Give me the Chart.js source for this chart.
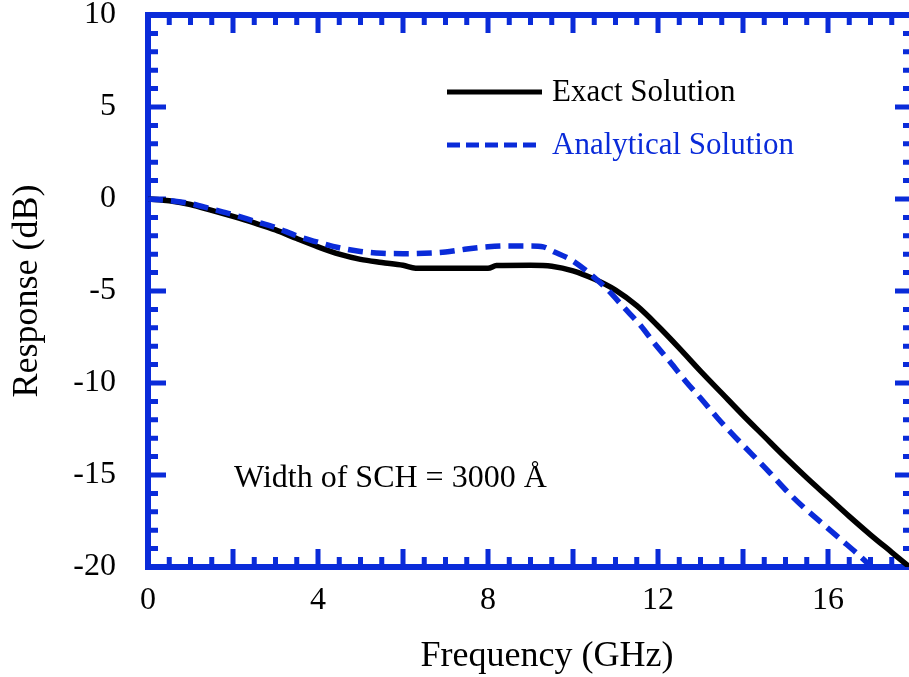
<!DOCTYPE html>
<html>
<head>
<meta charset="utf-8">
<title>Frequency response</title>
<script src="https://cdn.jsdelivr.net/npm/chart.js@4.4.1/dist/chart.umd.min.js"></script>
<style>
  html, body { margin: 0; padding: 0; background: #fff; overflow: hidden; width: 909px; height: 677px; }
  #wrap { position: absolute; left: 0; top: 0; width: 920px; height: 677px; }
  canvas { display: block; }
</style>
</head>
<body>
<div id="wrap"><canvas id="c" width="920" height="677"></canvas></div>
<script>
// Exact solution: frequency (GHz) and response (dB)
const freqExact = [0, 0.5, 1, 1.5, 2, 2.5, 3, 3.5, 4, 4.5, 5, 5.5, 6, 6.3, 7, 8, 8.2, 9, 9.5, 10, 10.5, 11, 11.5, 12, 12.5, 13, 13.5, 14, 14.5, 15, 15.5, 16, 16.5, 17, 17.5, 18];
const respExact = [0, -0.1, -0.3, -0.62, -0.95, -1.3, -1.68, -2.15, -2.6, -3.0, -3.28, -3.45, -3.6, -3.76, -3.77, -3.77, -3.62, -3.6, -3.65, -3.9, -4.35, -4.95, -5.8, -6.9, -8.1, -9.35, -10.55, -11.75, -12.9, -14.05, -15.15, -16.2, -17.25, -18.25, -19.2, -20.15];

// Analytical solution: frequency (GHz) and response (dB)
const freqAnalytical = [0, 0.5, 1, 1.5, 2, 2.5, 3, 3.5, 4, 4.5, 5, 5.5, 6, 6.5, 7, 7.5, 8, 8.5, 9, 9.3, 9.55, 9.95, 10.35, 10.8, 11.2, 11.6, 11.9, 12.3, 12.65, 13.05, 13.4, 13.8, 14.2, 14.6, 15, 15.4, 15.85, 16.3, 16.7, 17, 17.3];
const respAnalytical = [0, -0.08, -0.25, -0.55, -0.85, -1.2, -1.55, -2.0, -2.35, -2.65, -2.85, -2.95, -2.97, -2.95, -2.88, -2.72, -2.6, -2.55, -2.55, -2.6, -2.87, -3.3, -3.97, -4.9, -5.9, -6.9, -7.8, -8.9, -9.9, -10.95, -11.9, -12.9, -13.85, -14.8, -15.8, -16.7, -17.6, -18.5, -19.3, -19.95, -20.6];

// Labelled tick values
const xTickValues = [0, 4, 8, 12, 16];
const yTickValues = [-20, -15, -10, -5, 0, 5, 10];

const seriesNames = ['Exact Solution', 'Analytical Solution'];
const xTitle = 'Frequency (GHz)';
const yTitle = 'Response (dB)';
const noteText = 'Width of SCH = 3000 Å';

const BLUE = '#0a2bd9';
const SERIF = '"Liberation Serif", "Times New Roman", Times, serif';

function toPoints(xs, ys) {
  return xs.map((x, i) => ({ x: x, y: ys[i] }));
}

// Blue box frame with inward ticks on all four sides, plus legend, note and x title
const framePlugin = {
  id: 'frame',
  beforeDatasetsDraw(chart) {
    const { ctx, chartArea: a, scales } = chart;
    const xs = scales.x, ys = scales.y;
    ctx.save();
    ctx.strokeStyle = BLUE;
    ctx.lineCap = 'butt';
    ctx.lineWidth = 5;
    ctx.beginPath();
    for (let i = 0; i <= 36; i++) {
      const v = i * 0.5;
      const px = xs.getPixelForValue(v);
      const len = (i % 4 === 0) ? 18 : 10;
      ctx.moveTo(px, a.bottom); ctx.lineTo(px, a.bottom - len);
      ctx.moveTo(px, a.top); ctx.lineTo(px, a.top + len);
    }
    for (let v = -20; v <= 10; v++) {
      const py = ys.getPixelForValue(v);
      const len = (v % 5 === 0) ? 18 : 10;
      ctx.moveTo(a.left, py); ctx.lineTo(a.left + len, py);
      ctx.moveTo(a.right, py); ctx.lineTo(a.right - len, py);
    }
    ctx.stroke();
    ctx.lineWidth = 6;
    ctx.strokeRect(a.left, a.top, a.right - a.left, a.bottom - a.top);
    ctx.restore();
  },
  afterDraw(chart) {
    const ctx = chart.ctx;
    ctx.save();
    // legend
    const rows = [
      { y: 92, x1: 447, x2: 542, dash: [] },
      { y: 145, x1: 447, x2: 536, dash: [13, 6] }
    ];
    chart.data.datasets.forEach((ds, i) => {
      const r = rows[i];
      ctx.strokeStyle = ds.borderColor;
      ctx.lineWidth = 5;
      ctx.lineCap = 'butt';
      ctx.setLineDash(r.dash);
      ctx.beginPath();
      ctx.moveTo(r.x1, r.y);
      ctx.lineTo(r.x2, r.y);
      ctx.stroke();
      ctx.setLineDash([]);
      ctx.fillStyle = ds.borderColor;
      ctx.font = '31px ' + SERIF;
      ctx.textAlign = 'left';
      ctx.textBaseline = 'alphabetic';
      ctx.fillText(ds.label, 552, r.y + 9);
    });
    // annotation
    ctx.fillStyle = '#000';
    ctx.font = '32px ' + SERIF;
    ctx.textAlign = 'left';
    ctx.textBaseline = 'alphabetic';
    ctx.fillText(noteText, 234, 487);
    // x axis title
    ctx.font = '36px ' + SERIF;
    ctx.textAlign = 'center';
    ctx.fillText(xTitle, 547, 666);
    ctx.restore();
  }
};

new Chart(document.getElementById('c'), {
  type: 'scatter',
  data: {
    datasets: [
      {
        label: seriesNames[0],
        data: toPoints(freqExact, respExact),
        showLine: true,
        borderColor: '#000000',
        borderWidth: 5.5,
        pointRadius: 0,
        fill: false,
        cubicInterpolationMode: 'monotone',
        borderCapStyle: 'butt',
        order: 2
      },
      {
        label: seriesNames[1],
        data: toPoints(freqAnalytical, respAnalytical),
        showLine: true,
        borderColor: BLUE,
        borderWidth: 5.5,
        borderDash: [15, 8],
        pointRadius: 0,
        fill: false,
        cubicInterpolationMode: 'monotone',
        borderCapStyle: 'butt',
        order: 1
      }
    ]
  },
  options: {
    responsive: false,
    animation: false,
    devicePixelRatio: 1,
    layout: { padding: { left: 0, top: 15, right: 7, bottom: 0 } },
    plugins: { legend: { display: false }, tooltip: { enabled: false } },
    scales: {
      x: {
        type: 'linear',
        min: 0,
        max: 18,
        grid: { display: false, drawTicks: false },
        border: { display: false },
        afterBuildTicks: (s) => { s.ticks = xTickValues.map(v => ({ value: v })); },
        afterFit: (s) => { s.height = 110; s.paddingLeft = 0; s.paddingRight = 0; },
        ticks: {
          font: { family: SERIF, size: 32 },
          color: '#000',
          padding: 14,
          maxRotation: 0,
          autoSkip: false
        }
      },
      y: {
        type: 'linear',
        min: -20,
        max: 10,
        grid: { display: false, drawTicks: false },
        border: { display: false },
        afterBuildTicks: (s) => { s.ticks = yTickValues.map(v => ({ value: v })); },
        afterFit: (s) => { s.width = 148; s.paddingTop = 0; s.paddingBottom = 0; },
        ticks: {
          font: { family: SERIF, size: 32 },
          color: '#000',
          padding: 32,
          autoSkip: false
        },
        title: {
          display: true,
          text: yTitle,
          font: { family: SERIF, size: 36 },
          color: '#000',
          padding: { top: 6, bottom: 0 }
        }
      }
    }
  },
  plugins: [framePlugin]
});
</script>
</body>
</html>
